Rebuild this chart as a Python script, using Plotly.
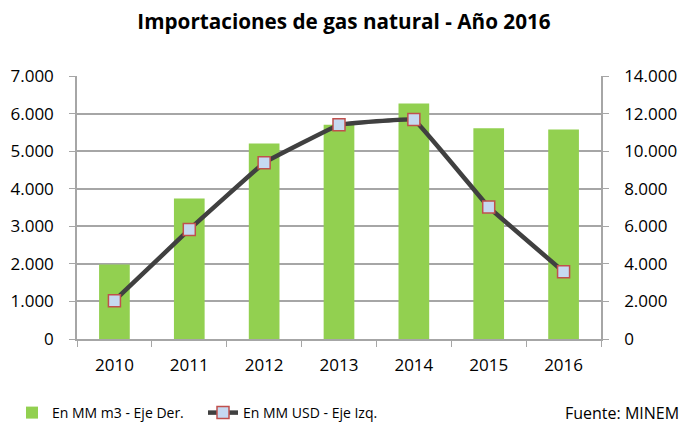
import plotly.graph_objects as go

years = ["2010", "2011", "2012", "2013", "2014", "2015", "2016"]
m3_values = [3970, 7480, 10410, 11400, 12540, 11220, 11150]   # En MM m3 - Eje Der.
usd_values = [1020, 2915, 4690, 5700, 5840, 3510, 1790]       # En MM USD - Eje Izq.
left_ticks = [0, 1000, 2000, 3000, 4000, 5000, 6000, 7000]
left_labels = ["0", "1.000", "2.000", "3.000", "4.000", "5.000", "6.000", "7.000"]
right_ticks = [0, 2000, 4000, 6000, 8000, 10000, 12000, 14000]
right_labels = ["0", "2.000", "4.000", "6.000", "8.000", "10.000", "12.000", "14.000"]

FONT = "Open Sans"
GRID = "#a6a6a6"

# figure is placed at (8, 8) in the page by the default body margin
W, H = 680, 420
L, R, T, B = 69, 593, 68, 331

fig = go.Figure()
fig.add_trace(go.Bar(
    x=years, y=m3_values, name="En MM m3 - Eje Der.", yaxis="y2",
    marker=dict(color="#92d050", line=dict(width=0)), width=0.41,
))
fig.add_trace(go.Scatter(
    x=years, y=usd_values, name="En MM USD - Eje Izq.", yaxis="y",
    mode="lines+markers",
    line=dict(color="#404040", width=4.5, shape="spline", smoothing=0.15),
    marker=dict(symbol="square", size=12, color="#c6d9f1",
                line=dict(color="#c0504d", width=1.5)),
))

fig.update_layout(
    width=W, height=H,
    margin=dict(l=L, r=W - R, t=T, b=H - B, autoexpand=False),
    paper_bgcolor="white", plot_bgcolor="white",
    font=dict(family=FONT, size=17, color="#000000"),
    title=dict(text="<b>Importaciones de gas natural - Año 2016</b>",
               x=(W / 2 - 4) / W, xanchor="center", xref="container",
               y=1 - 14 / H, yanchor="middle", yref="container",
               font=dict(family=FONT, size=20.7, color="#000000")),
    xaxis=dict(type="category", showgrid=False, showline=True, linecolor=GRID,
               linewidth=1.5, ticks="outside", ticklen=6, tickcolor=GRID,
               tickson="boundaries", tickfont=dict(size=17),
               ticklabelstandoff=10),
    yaxis2=dict(range=[0, 14000], tickvals=right_ticks, ticktext=right_labels,
                side="right", showgrid=True, gridcolor=GRID, gridwidth=1.5,
                showline=True, linecolor=GRID, linewidth=1.5,
                ticks="outside", ticklen=6, tickcolor=GRID,
                zeroline=False, tickfont=dict(size=17), ticklabelstandoff=12),
    yaxis=dict(range=[0, 7000], tickvals=left_ticks, ticktext=left_labels,
               overlaying="y2", side="left", showgrid=False,
               showline=True, linecolor=GRID, linewidth=1.5,
               ticks="outside", ticklen=6, tickcolor=GRID,
               zeroline=False, tickfont=dict(size=17), ticklabelstandoff=12),
    showlegend=True,
    legend=dict(orientation="h", xref="container", x=4 / W,
                yref="container", y=(H - 405) / H, yanchor="middle",
                font=dict(size=14), itemwidth=30, traceorder="normal",
                entrywidth=146, entrywidthmode="pixels",
                bgcolor="rgba(0,0,0,0)"),
    annotations=[dict(text="Fuente: MINEM", xref="paper", yref="paper",
                      x=(673 - L) / (R - L), xanchor="right",
                      y=-(405 - B) / (B - T), yanchor="middle",
                      showarrow=False, font=dict(size=16))],
)
fig.update_yaxes(automargin=False)
fig.update_xaxes(automargin=False)

fig.write_html("out.html")
